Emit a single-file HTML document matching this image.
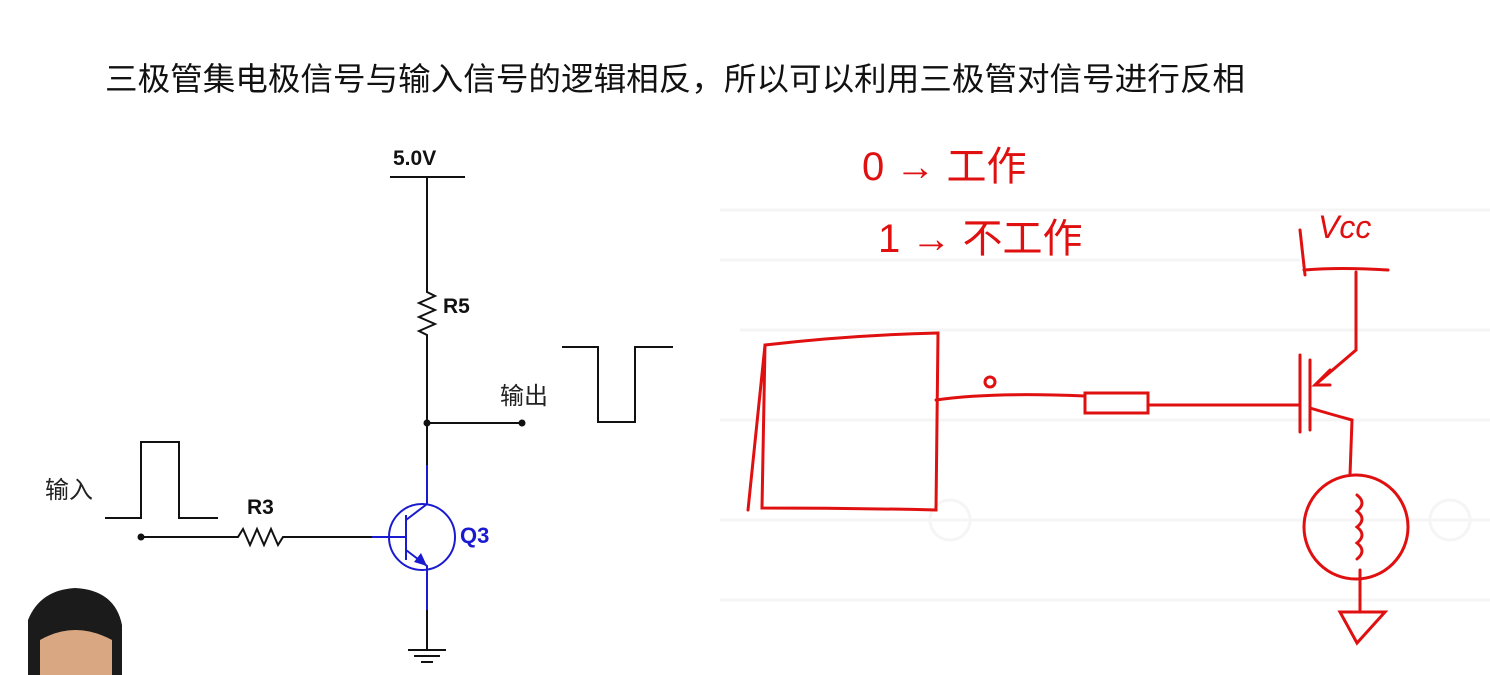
<!DOCTYPE html>
<html><head><meta charset="utf-8"><style>
body{margin:0;width:1490px;height:675px;background:#fff;overflow:hidden;position:relative;font-family:"Liberation Sans","Noto Sans CJK SC",sans-serif}
svg{position:absolute;left:0;top:0}
</style></head><body>
<svg width="1490" height="675" xmlns="http://www.w3.org/2000/svg">
<g stroke="#f5f5f5" stroke-width="3" fill="none">
<path d="M720 210 H1490 M720 260 H1300 M740 330 H1490 M720 420 H1490 M720 520 H1490 M720 600 H1490"/>
<circle cx="950" cy="520" r="20"/><circle cx="1450" cy="520" r="20"/>
</g>
<text x="105" y="90" font-size="32" textLength="1140" lengthAdjust="spacingAndGlyphs" fill="#111" font-family="Liberation Sans,Noto Sans CJK SC,sans-serif">三极管集电极信号与输入信号的逻辑相反，所以可以利用三极管对信号进行反相</text>
<g stroke="#111" stroke-width="2" fill="none">
<path d="M390 177 H465 M427 177 V292 l8 4 -16 7 16 7 -16 7 16 7 -16 7 8 4 V423 H522 M427 423 V465"/>
<path d="M562 347 H598 V422 H635 V347 H673"/>
<path d="M105 518 H141 V442 H179 V518 H218"/>
<path d="M141 537 H238 l5 -8 7 16 7 -16 7 16 7 -16 7 16 5 -8 H372"/>
<path d="M427 610 V650 M408 650 H446 M414 656 H440 M421 662 H433"/>
</g>
<circle cx="427" cy="423" r="3.5" fill="#111"/><circle cx="522" cy="423" r="3.5" fill="#111"/><circle cx="141" cy="537" r="3.5" fill="#111"/>
<text x="393" y="165" font-size="21" font-weight="bold" fill="#111">5.0V</text>
<text x="443" y="313" font-size="21" font-weight="bold" fill="#111">R5</text>
<text x="247" y="514" font-size="21" font-weight="bold" fill="#111">R3</text>
<text x="500" y="404" font-size="24" fill="#222">输出</text>
<text x="45" y="498" font-size="24" fill="#222">输入</text>
<g stroke="#1a1ad0" stroke-width="2" fill="none">
<path d="M427 465 V504 L406 520 M372 537 H406 M406 515 V560 M406 550 L427 566 V610"/>
<circle cx="422" cy="537" r="33"/>
</g>
<path d="M427 566 L414 562 L421 553 Z" fill="#1a1ad0"/>
<text x="460" y="543" font-size="22" font-weight="bold" fill="#1a1ad0">Q3</text>
<g stroke="#e01010" stroke-width="3" fill="none" stroke-linecap="round">
<path d="M765 345 Q850 335 938 333 L936 510 Q850 508 762 508 Z M765 345 L748 510"/>
<path d="M936 400 Q990 392 1085 396 M1085 393 H1148 V413 H1085 Z M1148 405 H1300"/>
<circle cx="990" cy="382" r="5"/>
<path d="M1300 355 V432 M1300 405 H1290 M1310 360 V430 M1304 270 Q1340 267 1388 270 M1356 272 V350 L1315 385 M1330 370 L1315 385 L1330 385 M1310 408 Q1330 414 1352 420 L1350 475"/>
<circle cx="1356" cy="527" r="52"/>
<path d="M1357 495 q10 8 0 16 q10 8 0 16 q10 8 0 16 q10 8 0 16 M1360 570 V612 M1340 612 H1385 L1357 643 Z"/>
<path d="M1300 230 L1305 275"/>
</g>
<g fill="#e01010" font-family="Liberation Sans,Noto Sans CJK SC,sans-serif">
<text x="862" y="180" font-size="40">0 → 工作</text>
<text x="878" y="252" font-size="40">1 → 不工作</text>
<text x="1318" y="238" font-size="32" font-style="italic">Vcc</text>
</g>
<path d="M28 675 V620 Q40 590 75 588 Q115 590 122 625 V675 Z" fill="#1b1b1b"/>
<path d="M40 675 V640 Q75 620 112 640 V675 Z" fill="#d9a882"/>
</svg>
</body></html>
